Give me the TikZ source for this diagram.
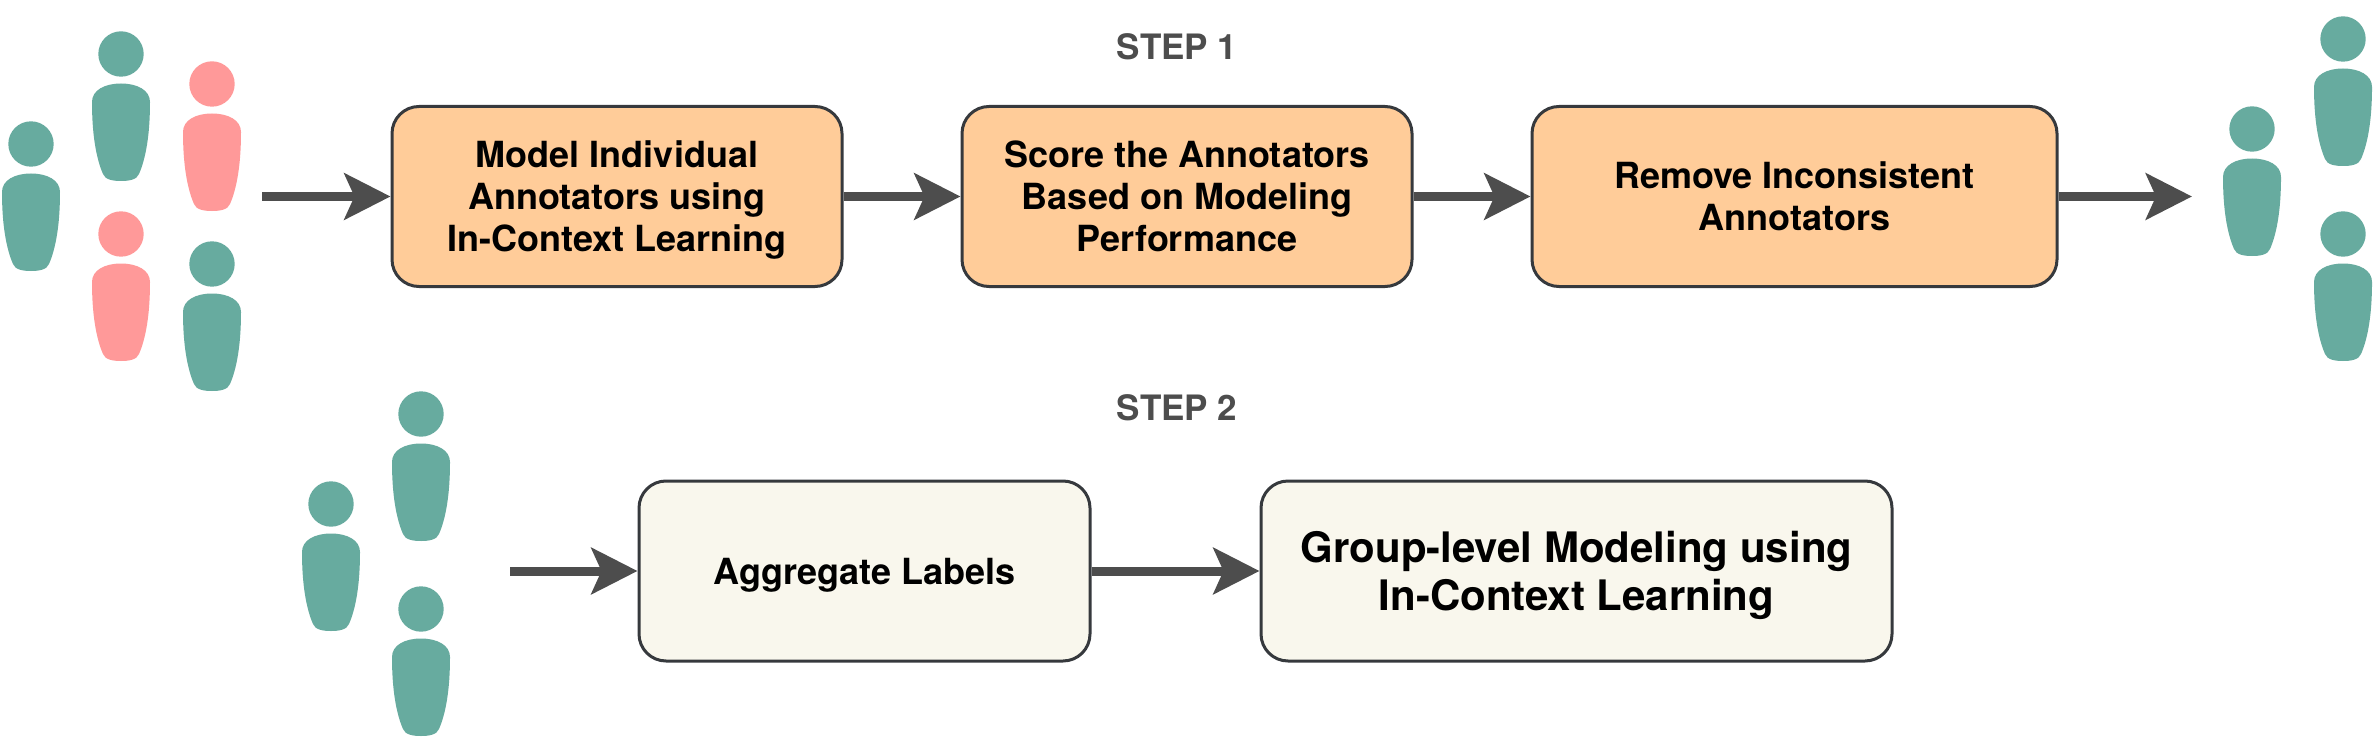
\documentclass[tikz,border=0pt]{standalone}
\usepackage{fontspec}
\setmainfont{TeX Gyre Heros}
\usetikzlibrary{arrows.meta}
\definecolor{teal1}{HTML}{67AB9F}
\definecolor{pink1}{HTML}{FF9999}
\definecolor{orange1}{HTML}{FFCC99}
\definecolor{cream1}{HTML}{F9F7ED}
\definecolor{edge1}{HTML}{36393D}
\definecolor{arrow1}{HTML}{4D4D4D}
\newcommand{\tstrt}{\rule{0pt}{.96em}}
\newcommand{\bstrt}{\rule[-.22em]{0pt}{.22em}}
\tikzset{
  x=1pt,y=-1pt,
  box/.style={draw=edge1,line width=3pt,rounded corners=27pt,align=center,inner sep=0pt,
    font=\fontsize{36}{42}\selectfont\bfseries,text=black,minimum height=180pt},
  orangebox/.style={box,fill=orange1},
  creambox/.style={box,fill=cream1},
  biglabel/.style={font=\fontsize{42}{48}\selectfont\bfseries},
  conn/.style={draw=arrow1,line width=9pt,-{Stealth[length=46pt,width=46pt,inset=10pt]}},
  steplabel/.style={text=arrow1,font=\fontsize{35}{40}\selectfont\bfseries},
  pics/person/.style={code={
    \fill[#1] (0,0) circle (22.7);
    \fill[#1] (0,29.5) .. controls (16,29.5) and (29,36) .. (29,48)
      .. controls (29,80) and (25,104) .. (18,120)
      .. controls (16,126) and (7,127) .. (0,127)
      .. controls (-7,127) and (-16,126) .. (-18,120)
      .. controls (-25,104) and (-29,80) .. (-29,48)
      .. controls (-29,36) and (-16,29.5) .. (0,29.5) -- cycle;
  }}
}
\begin{document}
\begin{tikzpicture}
\useasboundingbox (0,0) rectangle (2373,738);
% people left
\pic at (31,144) {person=teal1};
\pic at (121,54) {person=teal1};
\pic at (212,84) {person=pink1};
\pic at (121,234) {person=pink1};
\pic at (212,264) {person=teal1};
% people right
\pic at (2252,129) {person=teal1};
\pic at (2343,39) {person=teal1};
\pic at (2343,234) {person=teal1};
% people bottom
\pic at (331,504) {person=teal1};
\pic at (421,414) {person=teal1};
\pic at (421,609) {person=teal1};
% labels
\node[steplabel] (s1) at (1177,47) {STEP 1};
\node[steplabel] (s2) at (1177,408) {STEP 2};
% boxes
\node[orangebox,minimum width=450pt] (b1) at (617,196.5) {\tstrt Model Individual\\Annotators using\\In-Context Learning\bstrt};
\node[orangebox,minimum width=450pt] (b2) at (1187,196.5) {\tstrt Score the Annotators\\Based on Modeling\\Performance\bstrt};
\node[orangebox,minimum width=525pt] (b3) at (1794.5,196.5) {\tstrt Remove Inconsistent\\Annotators\bstrt};
\node[creambox,minimum width=451pt] (b4) at (864.5,571) {\tstrt Aggregate Labels\bstrt};
\node[creambox,biglabel,minimum width=631pt] (b5) at (1576.5,571) {\tstrt Group-level Modeling using\\In-Context Learning\bstrt};
% free ends
\coordinate (in1) at (262,196.5);
\coordinate (out1) at (2192,196.5);
\coordinate (in2) at (510,571);
% connectors
\draw[conn] (in1) -- (b1.west);
\draw[conn] (b1.east) -- (b2.west);
\draw[conn] (b2.east) -- (b3.west);
\draw[conn] (b3.east) -- (out1);
\draw[conn] (in2) -- (b4.west);
\draw[conn] (b4.east) -- (b5.west);
\end{tikzpicture}
\end{document}
